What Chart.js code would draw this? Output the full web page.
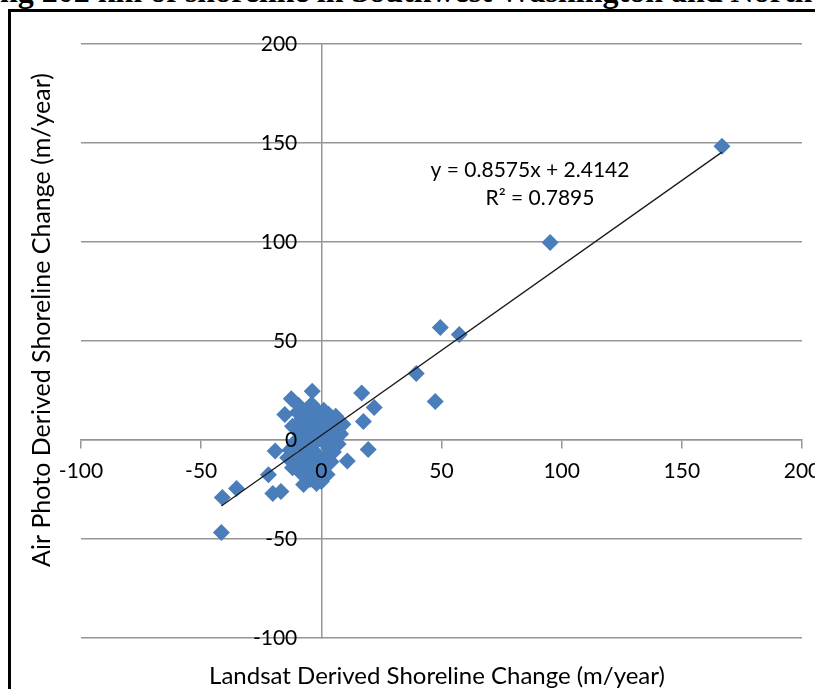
<!DOCTYPE html>
<html>
<head>
<meta charset="utf-8">
<script src="https://cdn.jsdelivr.net/npm/chart.js@4.4.0/dist/chart.umd.min.js"></script>
<style>
  html, body { margin: 0; padding: 0; background: #fff; overflow: hidden; width: 815px; height: 689px; }
  #titulo { position: absolute; top: -27px; left: 0; font: bold 32px "Liberation Serif", "Times New Roman", serif; white-space: nowrap; color: #000; }
  #moldura { position: absolute; left: 8px; top: 9px; width: 1000px; height: 1000px; border-left: 3px solid #000; border-top: 3px solid #000; }
  #grafico { position: absolute; left: 0; top: 0; }
</style>
</head>
<body>
<div id="titulo">along 202 km of shoreline in Southwest Washington and Northwest Oregon</div>
<div id="moldura"></div>
<canvas id="grafico" width="900" height="689"></canvas>
<script>
// --- Dados ---
const landsatX = [
  166.7, 95.2, 49.5, 57.4, 39.5, 47.4, 16.8, 22, 17.5, 19.5, 10.8, 7,
  -3.8, -12.5, -9.5, -15.2, -19.2, -22, -20.2, -16.8, -35.3, -41.2, -41.6, 2.4, -4.6, -7.4,
  -10, -8, -6, -5, -3, -1, 1, 3, 2, 4, 6, 5, 8, 3, 0, -2, -4, -7, -9, -11, -8, -6, -3, -1,
  1, 3, 5, 7, 2, 0, -2, -4, -6, -8, -10, -12, -9, -6, -3, -1, 1, 4, -2, 0, -7, -5, -12, -13,
  9, 6, -14, -4, -1, 2, -9
];
const airPhotoY = [
  148.3, 99.8, 56.8, 53.3, 33.6, 19.5, 23.8, 16.4, 9.3, -4.8, -10.6, 4.3,
  24.6, 20.8, 17.5, 12.9, -5.5, -17.5, -27, -26, -24.5, -29, -46.7, -17.4, -20, -22.5,
  14, 11, 15, 9, 12, 14, 15, 13, 8, 10, 7, 2, 3, 4, 6, 5, 3, 6, 3, -1, -3, 0, -2, 1,
  -1, -4, -6, -2, -8, -10, -7, -9, -12, -8, -11, -14, -16, -18, -14, -17, -13, -11, -22, -21, 4, -5, 7, -5,
  8, 12, -9, 18, 10, 1, 9
];
const tendenciaX = [-41.6, 166.7];
const tendenciaY = [-33.3, 145.4];
const ticksX = [-100, -50, 0, 50, 100, 150, 200];
const ticksY = [-100, -50, 0, 50, 100, 150, 200];
const tituloX = 'Landsat Derived Shoreline Change (m/year)';
const tituloY = 'Air Photo Derived Shoreline Change (m/year)';
const equacao = 'y = 0.8575x + 2.4142';
const r2 = 'R² = 0.7895';

// desloca o título da página para mostrar só o trecho recortado
const titulo = document.getElementById('titulo');
const medidor = document.createElement('canvas').getContext('2d');
medidor.font = getComputedStyle(titulo).font;
titulo.style.left = (-medidor.measureText('alo').width) + 'px';

const corGrade = '#969696';
const fonteTicks = { family: 'Lato', size: 21 };

// textos extras: títulos dos eixos e equação da tendência
const textosGrafico = {
  id: 'textosGrafico',
  afterDraw(chart) {
    const ctx = chart.ctx;
    ctx.save();
    ctx.fillStyle = '#000';
    ctx.textAlign = 'center';
    ctx.textBaseline = 'middle';
    ctx.font = '21px Lato';
    ctx.fillText(equacao, 530, 170);
    ctx.fillText(r2, 540, 198);
    ctx.font = '24px Lato';
    ctx.fillText(tituloX, 437, 676);
    ctx.translate(42, 320);
    ctx.rotate(-Math.PI / 2);
    ctx.font = '25px Lato';
    ctx.fillText(tituloY, 0, 0);
    ctx.restore();
  }
};

const pontos = landsatX.map((x, i) => ({ x: x, y: airPhotoY[i] }));
const linha = tendenciaX.map((x, i) => ({ x: x, y: tendenciaY[i] }));

new Chart(document.getElementById('grafico'), {
  type: 'scatter',
  data: {
    datasets: [
      {
        type: 'line', data: linha, borderColor: '#1a1a1a', borderWidth: 1.3,
        pointRadius: 0, fill: false, xAxisID: 'x', yAxisID: 'y'
      },
      {
        data: pontos, pointStyle: 'rectRot', pointRadius: 8.5, pointBorderWidth: 0,
        backgroundColor: '#4a7ebb', borderColor: '#4a7ebb', xAxisID: 'x', yAxisID: 'y'
      }
    ]
  },
  options: {
    responsive: false,
    animation: false,
    layout: { padding: { left: 81, top: 44, right: 98, bottom: 51 } },
    plugins: { legend: { display: false }, tooltip: { enabled: false } },
    scales: {
      x: {
        type: 'linear', min: -100, max: 200, position: { y: 0 },
        afterBuildTicks: s => { s.ticks = ticksX.map(v => ({ value: v })); },
        ticks: { font: fonteTicks, color: '#000', padding: 11, maxRotation: 0, autoSkip: false, z: 1 },
        grid: { drawOnChartArea: false, drawTicks: true, tickLength: 8, color: corGrade, lineWidth: 1.5 },
        border: { color: corGrade, width: 1.5 }
      },
      y: {
        type: 'linear', min: -100, max: 200, position: { x: 0 },
        afterBuildTicks: s => { s.ticks = ticksY.map(v => ({ value: v })); },
        ticks: { display: false },
        grid: { drawTicks: false, color: corGrade, lineWidth: 1.5 },
        border: { color: corGrade, width: 1.5 }
      },
      // rótulos do eixo y, um pouco à esquerda do eixo
      yl: {
        type: 'linear', min: -100, max: 200, position: { x: -10 },
        afterBuildTicks: s => { s.ticks = ticksY.map(v => ({ value: v })); },
        ticks: { font: fonteTicks, color: '#000', autoSkip: false, z: 1 },
        grid: { display: false, drawTicks: false },
        border: { display: false }
      }
    }
  },
  plugins: [textosGrafico]
});
</script>
</body>
</html>
